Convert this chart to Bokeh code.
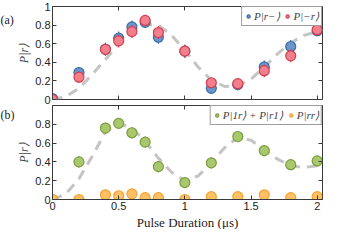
from bokeh.plotting import figure
from bokeh.models import Range1d, LinearAxis, FixedTicker, Legend, LegendItem, Label, Title
from bokeh.layouts import column
from bokeh.embed import file_html
from bokeh.resources import INLINE

# ---- data ----
t = [0, 0.2, 0.4, 0.5, 0.6, 0.7, 0.8, 1.0, 1.2, 1.4, 1.6, 1.8, 2.0]
p_r_minus = [0.01, 0.29, 0.54, 0.66, 0.78, 0.83, 0.67, 0.52, 0.12, 0.16, 0.35, 0.57, 0.74]
p_minus_r = [0.0, 0.24, 0.54, 0.63, 0.73, 0.85, 0.72, 0.52, 0.18, 0.17, 0.31, 0.47, 0.75]
err_a = [0.03, 0.06, 0.07, 0.07, 0.07, 0.06, 0.07, 0.07, 0.06, 0.06, 0.07, 0.07, 0.06]
p_1r_r1 = [0.0, 0.40, 0.76, 0.81, 0.71, 0.61, 0.35, 0.18, 0.39, 0.67, 0.52, 0.37, 0.41]
p_rr = [0.0, 0.0, 0.05, 0.04, 0.06, 0.02, 0.02, 0.0, 0.03, 0.03, 0.05, 0.02, 0.03]
err_g = [0.02, 0.06, 0.06, 0.05, 0.06, 0.06, 0.06, 0.05, 0.06, 0.06, 0.06, 0.06, 0.06]
err_o = [0.01, 0.02, 0.03, 0.03, 0.03, 0.02, 0.02, 0.01, 0.02, 0.02, 0.03, 0.02, 0.02]

fit_t = [0, 0.1, 0.2, 0.3, 0.4, 0.5, 0.6, 0.7, 0.8, 0.9, 1.0, 1.1, 1.2, 1.3, 1.4,
         1.5, 1.6, 1.7, 1.8, 1.9, 2.0, 2.04]
fit_a = [0, 0.03, 0.12, 0.27, 0.43, 0.60, 0.73, 0.81, 0.80, 0.69, 0.53, 0.35, 0.21,
         0.14, 0.15, 0.22, 0.35, 0.49, 0.61, 0.69, 0.73, 0.74]
fit_b = [0, 0.06, 0.22, 0.46, 0.72, 0.81, 0.76, 0.62, 0.44, 0.29, 0.20, 0.25, 0.39,
         0.55, 0.66, 0.63, 0.53, 0.43, 0.36, 0.34, 0.36, 0.38]

x_ticks = [0, 0.5, 1, 1.5, 2]
y_ticks_a = [0, 0.2, 0.4, 0.6, 0.8, 1]
y_ticks_b = [0, 0.2, 0.4, 0.6, 0.8]
X_MAX = 2.04

# ---- style ----
W = 323
AX = "#3a3a3a"
FIT = "#c4c4c4"
TXT = "#222222"
SERIF = "Liberation Serif"
SANS = "Liberation Sans"
BLUE_F, BLUE_L = "#6a96cc", "#3b6ca6"
RED_F, RED_L = "#f27f8c", "#d63e50"
GRN_F, GRN_L = "#a9c76c", "#7c9d3e"
ORG_F, ORG_L = "#ffc164", "#f5a233"


def base(height, border_top, border_bottom):
    p = figure(width=W, height=height, output_backend="svg", toolbar_location=None,
               x_range=Range1d(0, X_MAX), y_range=Range1d(0, 1),
               min_border_left=28, min_border_right=1,
               min_border_top=border_top, min_border_bottom=border_bottom,
               x_axis_location=None, y_axis_location=None)
    p.grid.visible = False
    p.outline_line_color = AX
    p.outline_line_width = 1
    p.background_fill_color = "white"
    p.border_fill_color = "white"
    return p


def style_axis(ax, ticks, show_labels, loc=None):
    if loc is not None:
        ax.fixed_location = loc
    ax.ticker = FixedTicker(ticks=ticks)
    ax.axis_line_color = AX
    ax.major_tick_line_color = AX
    ax.major_tick_in = 4
    ax.major_tick_out = 0
    ax.minor_tick_line_color = None
    ax.major_label_overrides = {0: "0", 1: "1", 2: "2"}
    if show_labels:
        ax.major_label_text_font = SANS
        ax.major_label_text_font_size = "11px"
        ax.major_label_text_color = TXT
        ax.major_label_standoff = 2
    else:
        ax.major_label_text_font_size = "0px"
        ax.major_label_text_alpha = 0
        ax.major_label_standoff = 0


def add_axes(p, yticks, xlabels):
    left = LinearAxis()
    style_axis(left, yticks, True)
    left.axis_label = "P|r⟩"
    left.axis_label_text_font = SERIF
    left.axis_label_text_font_style = "italic"
    left.axis_label_text_font_size = "12px"
    left.axis_label_standoff = 1
    p.add_layout(left, "left")
    right = LinearAxis()
    style_axis(right, yticks, False, X_MAX)
    p.add_layout(right, "right")
    below = LinearAxis()
    if xlabels:
        style_axis(below, x_ticks, True)
    else:
        style_axis(below, x_ticks, False, 0)
    p.add_layout(below, "below")
    above = LinearAxis()
    style_axis(above, x_ticks, False, 1)
    p.add_layout(above, "above")


def errbars(p, y, e, color):
    lo = [a - b for a, b in zip(y, e)]
    hi = [a + b for a, b in zip(y, e)]
    p.segment(x0=t, x1=t, y0=lo, y1=hi, line_color=color, line_width=1.2)


def legend(p, items):
    lg = Legend(items=items, location="top_right", orientation="horizontal",
                margin=0, padding=2, spacing=4, glyph_width=8, glyph_height=14,
                label_standoff=2, label_height=14, label_width=10,
                label_text_font=SERIF, label_text_font_style="italic",
                label_text_font_size="11px", border_line_color=AX,
                border_line_width=1, background_fill_alpha=1)
    p.add_layout(lg, "center")


def panel_label(p, text, y):
    p.add_layout(Label(x=0, y=y, x_units="canvas", y_units="canvas", text=text,
                       text_baseline="middle", text_align="left",
                       text_font=SERIF, text_font_size="12px", text_color=TXT), "left")


# ---- panel (a) ----
pa = base(104, 6, 5)
add_axes(pa, y_ticks_a, False)
pa.line(fit_t, fit_a, line_color=FIT, line_width=3, line_dash="10 7")
errbars(pa, p_r_minus, err_a, BLUE_L)
rb = pa.scatter(t, p_r_minus, size=10, fill_color=BLUE_F, line_color=BLUE_L, line_width=1.2)
errbars(pa, p_minus_r, err_a, RED_L)
rr = pa.scatter(t, p_minus_r, size=10, fill_color=RED_F, line_color=RED_L, line_width=1.2)
legend(pa, [LegendItem(label="P|r−⟩", renderers=[rb]), LegendItem(label="P|−r⟩", renderers=[rr])])
panel_label(pa, "(a)", 19)

# ---- panel (b) ----
pb = base(125, 1, 28)
add_axes(pb, y_ticks_b, True)
pb.line(fit_t, fit_b, line_color=FIT, line_width=3, line_dash="10 7")
errbars(pb, p_1r_r1, err_g, GRN_L)
rg = pb.scatter(t, p_1r_r1, size=10, fill_color=GRN_F, line_color=GRN_L, line_width=1.2)
errbars(pb, p_rr, err_o, ORG_L)
ro = pb.scatter(t, p_rr, size=10, fill_color=ORG_F, line_color=ORG_L, line_width=1.2)
legend(pb, [LegendItem(label="P|1r⟩ + P|r1⟩", renderers=[rg]), LegendItem(label="P|rr⟩", renderers=[ro])])
panel_label(pb, "(b)", 10)
pb.add_layout(Title(text="Pulse Duration (μs)", align="center", standoff=0,
                    text_font=SERIF, text_font_style="normal", text_font_size="13px",
                    text_color=TXT), "below")

layout = column(pa, pb, spacing=0)
open("out.html", "w").write(file_html(layout, INLINE))
